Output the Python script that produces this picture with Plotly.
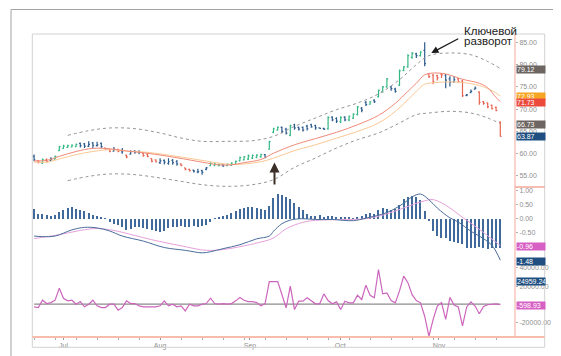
import plotly.graph_objects as go

# ---------------- data ----------------
months = ["Jul", "Aug", "Sep", "Oct", "Nov"]
month_pos = [7.0, 30.0, 51.4, 72.9, 96.4]

opens = [
    59.4, 58.4, 57.9, 58.7, 58.5, 58.8, 60.7, 61.2, 61.4, 61.5,
    61.6, 62.3, 62.2, 61.7, 62.4, 61.8, 62.3, 61.3, 61.0, 60.6,
    61.0, 60.4, 59.7, 59.9, 60.6, 60.4, 60.1, 59.9, 58.9, 58.6,
    58.0, 58.5, 57.8, 58.5, 58.2, 57.7, 56.8, 56.5, 56.3, 55.9,
    56.2, 56.5, 57.3, 57.3, 57.3, 57.5, 57.3, 57.4, 57.6, 58.4,
    58.6, 58.8, 59.0, 59.2, 59.3, 59.8, 61.0, 64.8, 65.3, 65.9,
    65.5, 64.1, 66.5, 65.9, 65.9, 66.2, 66.5, 66.3, 65.8, 65.7,
    65.6, 68.2, 67.9, 67.2, 68.2, 67.6, 68.0, 68.8, 70.2, 71.5,
    71.1, 72.0, 72.8, 74.0, 75.0, 75.0, 74.5, 75.4, 78.7, 79.5,
    81.6, 82.4, 82.0, 83.2, 77.9, 77.6, 77.5, 77.9, 77.6, 76.8,
    76.1, 76.8, 76.3, 73.1, 73.7, 74.5, 73.8, 71.7, 71.4, 70.9,
    70.4, 67.1]
highs = [
    59.8, 58.5, 58.9, 58.9, 59.2, 59.6, 61.8, 62.0, 62.0, 62.1,
    62.3, 62.5, 62.4, 62.8, 62.6, 62.7, 62.5, 61.3, 61.1, 61.5,
    61.1, 61.3, 59.8, 60.8, 60.8, 60.8, 60.2, 60.1, 59.0, 58.7,
    59.0, 58.7, 59.0, 58.8, 58.6, 57.8, 56.8, 56.6, 56.4, 56.6,
    56.4, 57.0, 58.1, 57.9, 57.8, 57.6, 57.8, 58.1, 58.5, 59.4,
    59.5, 59.8, 59.8, 59.9, 60.0, 59.95, 62.9, 65.8, 66.1, 66.1,
    65.8, 66.5, 66.7, 66.1, 66.1, 66.5, 66.7, 66.5, 65.9, 65.8,
    68.4, 68.4, 68.2, 68.4, 68.4, 68.6, 69.1, 70.7, 70.5, 71.8,
    71.8, 72.2, 74.4, 75.2, 77.0, 75.2, 74.8, 78.9, 79.7, 82.3,
    82.8, 82.65, 83.0, 85.0, 78.1, 77.9, 77.7, 78.1, 77.9, 77.4,
    77.4, 77.0, 76.6, 73.4, 74.4, 75.1, 74.0, 71.8, 71.5, 71.0,
    70.6, 67.3]
lows = [
    58.3, 57.8, 57.7, 58.1, 58.4, 58.7, 60.6, 61.1, 61.3, 61.4,
    61.5, 61.4, 61.3, 61.5, 61.3, 61.6, 61.3, 60.9, 60.3, 60.5,
    60.3, 60.0, 59.0, 59.8, 60.0, 59.9, 59.3, 59.2, 58.1, 58.0,
    57.7, 57.6, 57.5, 57.5, 57.3, 57.2, 56.3, 56.0, 55.8, 55.6,
    55.3, 56.3, 57.2, 57.2, 57.2, 57.0, 57.2, 57.3, 57.5, 58.3,
    58.5, 58.6, 58.8, 59.0, 59.1, 59.0, 60.9, 64.6, 65.2, 64.6,
    64.3, 63.9, 65.4, 65.2, 65.0, 65.2, 65.8, 65.4, 65.6, 65.3,
    65.4, 67.3, 66.9, 66.9, 67.3, 67.3, 67.8, 68.6, 69.3, 70.7,
    71.0, 71.4, 72.6, 73.7, 74.8, 74.1, 73.7, 75.2, 78.5, 79.3,
    81.3, 81.5, 81.8, 79.6, 77.0, 75.6, 76.4, 77.0, 74.7, 75.1,
    75.9, 75.9, 72.7, 72.9, 73.6, 74.4, 71.0, 71.0, 70.2, 69.9,
    69.5, 63.85]
closes = [
    58.6, 58.1, 58.7, 58.3, 58.8, 59.4, 61.6, 61.7, 61.8, 61.9,
    62.1, 61.8, 61.7, 62.1, 61.9, 62.0, 61.6, 61.0, 60.5, 61.0,
    60.5, 60.7, 59.3, 60.5, 60.4, 60.3, 59.6, 59.4, 58.3, 58.2,
    58.4, 58.1, 58.2, 58.0, 57.7, 57.4, 56.5, 56.2, 56.1, 56.0,
    55.8, 56.8, 57.8, 57.6, 57.5, 57.3, 57.6, 57.9, 58.3, 59.1,
    59.3, 59.5, 59.6, 59.7, 59.8, 59.2, 62.7, 65.6, 65.9, 65.0,
    64.6, 66.3, 65.8, 65.5, 65.3, 65.6, 66.0, 65.8, 65.7, 65.5,
    68.1, 67.6, 67.3, 68.1, 67.6, 68.4, 68.9, 70.5, 69.8, 71.0,
    71.6, 71.7, 74.2, 75.0, 76.8, 74.6, 74.0, 78.6, 79.5, 82.0,
    82.5, 82.0, 82.8, 80.2, 77.3, 76.2, 77.0, 77.7, 76.5, 76.0,
    76.6, 76.2, 73.0, 73.2, 74.0, 74.7, 71.5, 71.3, 70.5, 70.1,
    69.7, 63.87]
# bar colour class: g = green, b = blue, r = red
bar_class = list(
    "brgrbggggg" "gbbbbbbrrb" "rbrbbbrrrr" "bbbbbrrrbb" "bbgggbgggg"
    "gggggbgggb" "bgbbbbbbbb" "gbbgbgggbb" "gbgggbbggg" "gbgbrrrrbb"
    "brrbbbrrrr" "rr")

ma_x = [0, 3, 6, 10, 14, 18, 22, 27, 34, 40, 44, 47, 50, 54, 57, 62, 67, 72,
        77, 82, 86, 89, 91, 93, 95, 98, 102, 106, 108, 110, 111]
ma_fast = [58.4, 58.5, 59.4, 60.5, 61.2, 61.1, 60.6, 60.1, 59.1, 58.1, 57.5,
           57.5, 58.0, 58.7, 60.1, 62.0, 63.4, 64.8, 66.5, 68.6, 71.3, 74.0,
           75.8, 77.7, 78.1, 77.9, 76.7, 75.8, 74.8, 72.6, 71.73]
ma_slow = [58.1, 58.1, 58.8, 59.8, 60.5, 60.9, 60.6, 60.3, 59.4, 58.5, 57.9,
           57.6, 57.7, 58.2, 59.0, 60.7, 62.0, 63.5, 65.0, 66.9, 69.5, 72.1,
           74.0, 75.6, 75.9, 76.1, 76.0, 75.3, 74.6, 73.6, 72.93]

band_x = [8, 13, 18, 24, 30, 35, 40, 46, 52, 57, 62, 67, 72, 77, 82, 87, 91,
          94, 99, 104, 108, 111]
band_upper = [64.12, 65.17, 65.77, 65.62, 64.65, 63.52, 62.78, 62.78, 62.92,
              63.90, 66.14, 68.01, 69.88, 71.38, 73.40, 76.61, 79.98, 82.0,
              82.6, 82.2, 80.7, 79.12]
band_lower = [53.95, 54.92, 55.45, 55.3, 54.55, 53.8, 53.05, 52.68, 53.05,
              54.17, 56.94, 59.04, 61.28, 63.15, 64.65, 66.89, 68.76, 69.13,
              69.51, 69.13, 68.01, 66.73]

macd_hist = [
    0.35, 0.18, 0.17, 0.12, 0.08, 0.12, 0.25, 0.32, 0.38, 0.40,
    0.36, 0.32, 0.26, 0.20, 0.13, 0.08, 0.05, 0.02, -0.12, -0.18,
    -0.22, -0.30, -0.42, -0.36, -0.30, -0.28, -0.32, -0.38, -0.42, -0.45,
    -0.48, -0.44, -0.33, -0.30, -0.30, -0.26, -0.30, -0.30, -0.26, -0.28,
    -0.25, -0.22, -0.12, 0.01, 0.05, 0.10, 0.14, 0.20, 0.28, 0.35,
    0.38, 0.40, 0.40, 0.38, 0.36, 0.30, 0.45, 0.75, 0.88, 0.85,
    0.78, 0.72, 0.55, 0.42, 0.30, 0.18, 0.10, 0.08, 0.12, 0.05,
    0.08, 0.10, 0.06, 0.04, 0.05, 0.04, 0.02, 0.05, 0.10, 0.18,
    0.20, 0.15, 0.30, 0.38, 0.35, 0.32, 0.36, 0.50, 0.72, 0.78,
    0.82, 0.78, 0.65, 0.28, -0.08, -0.45, -0.62, -0.70, -0.70, -0.78,
    -0.83, -0.88, -0.90, -1.05, -1.06, -1.05, -1.00, -1.05, -1.08, -1.05,
    -1.05, -1.05]

macd_x = [0, 2, 5, 9, 12, 15, 18, 21, 26, 31, 36, 40, 42, 45, 49, 53, 56, 57,
          59, 61, 64, 67, 71, 76, 79, 84, 88, 90, 92, 94, 96, 99, 101, 104,
          106, 109, 111]
macd_line = [-0.62, -0.64, -0.62, -0.40, -0.31, -0.33, -0.44, -0.62, -0.80,
             -1.03, -1.13, -1.22, -1.18, -1.07, -0.93, -0.72, -0.62, -0.45,
             -0.18, -0.05, 0.0, -0.03, -0.03, -0.07, 0.02, 0.22, 0.55, 0.78,
             0.88, 0.68, 0.38, 0.03, -0.12, -0.45, -0.62, -0.95, -1.48]
signal_x = [0, 6, 11, 15, 19, 24, 28, 35, 41, 45, 50, 53, 57, 60, 64, 67, 73,
            79, 84, 89, 93, 95, 98, 102, 106, 111]
signal_line = [-0.71, -0.57, -0.42, -0.35, -0.42, -0.60, -0.75, -0.97, -1.13,
               -1.10, -0.97, -0.87, -0.69, -0.36, -0.13, -0.06, -0.03, 0.0,
               0.17, 0.44, 0.64, 0.68, 0.48, 0.05, -0.38, -0.96]

osc = [
    -2900, -3700, 4400, 700, 1800, 4400, 17700, 6600, 3700, 4400,
    0, 2900, -2900, 0, 4400, -1800, -3700, -3700, 0, 0,
    -6600, -3700, 3700, 700, 700, -1800, -2900, -2900, -2900, -2900,
    -1800, 3700, -1800, 0, -2900, -1800, -7400, 0, -1800, -1800,
    0, 700, 6600, 700, 0, 700, 0, 700, 3700, 7400,
    4400, 2900, 2900, 1800, -1800, 700, 25000, 25000, 25000, 10700,
    -4000, 19900, -5900, 3300, 3300, 7000, 3300, 400, 400, 11400,
    4000, 400, 2600, -5900, 3300, 1500, 1500, 9900, 5200, 21000,
    9900, 7000, 38300, 11400, 12500, 4000, 1500, 14700, 31000, 23800,
    10500, 4000, 1500, -13300, -35400, -17000, -2000, 1800, -16800, 7500,
    -1000, -3000, -24000, -3000, 2500, -2000, -10500, -2500, -600, 0,
    300, -598.93]

price_ticks = [55, 60, 65, 70, 75, 80, 85]
macd_ticks = [1.0, 0.5, 0.0, -0.5]
osc_ticks = [40000, 20000, -20000]

# value flags on the right axis: (text, colour, axis, value, yshift)
flags = [
    ("79.12", "#6d6561", "y", 79.12, -0.5),
    ("72.93", "#f6a623", "y", 72.93, -0.7),
    ("71.73", "#ec4b3c", "y", 71.73, -1.4),
    ("66.73", "#6d6561", "y", 66.73, -0.8),
    ("63.87", "#1f4f80", "y", 63.87, 0),
    ("-0.96", "#d760c4", "y2", -0.96, -0.8),
    ("-1.48", "#1f4f80", "y2", -1.48, -1.2),
    ("24959.24", "#1f4f80", "y3", 24959.24, 0.5),
    ("-598.93", "#d760c4", "y3", -598.93, -0.8),
]

# ---------------- styling ----------------
GREEN, BLUE, RED = "#34b883", "#2c5b8e", "#e8634f"
FONT = "Liberation Sans Narrow, Arial Narrow, Liberation Sans, Arial"
TICKC = "#8f8f8f"

W, H = 561, 356
L, R, T, B = 24, 507, 26, 329


def pxx(px):
    return (px - L) / (R - L)


def pxy(py):
    return (B - py) / (B - T)


fig = go.Figure()

# envelope bands
for band in (band_upper, band_lower):
    fig.add_trace(go.Scatter(x=band_x, y=band, mode="lines",
                             line=dict(color="#959595", width=1, dash="dot", shape="spline"),
                             yaxis="y", hoverinfo="skip"))
# moving averages
fig.add_trace(go.Scatter(x=ma_x, y=ma_slow, mode="lines",
                         line=dict(color="#fbc894", width=1, shape="spline"),
                         yaxis="y", hoverinfo="skip"))
fig.add_trace(go.Scatter(x=ma_x, y=ma_fast, mode="lines",
                         line=dict(color="#f08a78", width=1, shape="spline"),
                         yaxis="y", hoverinfo="skip"))

# price bars
for cls, col in (("g", GREEN), ("b", BLUE), ("r", RED)):
    idx = [i for i, c in enumerate(bar_class) if c == cls]
    fig.add_trace(go.Ohlc(
        x=idx, open=[opens[i] for i in idx], high=[highs[i] for i in idx],
        low=[lows[i] for i in idx], close=[closes[i] for i in idx],
        increasing=dict(line=dict(color=col, width=1.2)),
        decreasing=dict(line=dict(color=col, width=1.2)),
        tickwidth=0.3, yaxis="y", hoverinfo="skip"))

# MACD panel
fig.add_trace(go.Bar(x=list(range(len(macd_hist))), y=macd_hist, width=0.3,
                     marker=dict(color="#3f6a9b", line=dict(width=0)),
                     yaxis="y2", hoverinfo="skip"))
fig.add_trace(go.Scatter(x=signal_x, y=signal_line, mode="lines",
                         line=dict(color="#e6a0da", width=1, shape="spline"),
                         yaxis="y2", hoverinfo="skip"))
fig.add_trace(go.Scatter(x=macd_x, y=macd_line, mode="lines",
                         line=dict(color="#4a6e9c", width=1, shape="spline"),
                         yaxis="y2", hoverinfo="skip"))

# oscillator panel
fig.add_shape(type="line", xref="x", yref="y3", x0=0, x1=len(osc) - 1, y0=0, y1=0,
              line=dict(color="#8c8c8c", width=1.2), layer="below")
fig.add_trace(go.Scatter(x=list(range(len(osc))), y=osc, mode="lines",
                         line=dict(color="#cc66bd", width=1.2),
                         yaxis="y3", hoverinfo="skip"))

axis_common = dict(side="right", anchor="x", showgrid=False, zeroline=False,
                   showline=False, ticks="outside", ticklen=2, tickcolor="#b0b0b0",
                   tickfont=dict(family=FONT, size=7, color=TICKC))

fig.update_layout(
    width=W, height=H, margin=dict(l=L, r=W - R, t=T, b=H - B),
    paper_bgcolor="white", plot_bgcolor="white", showlegend=False,
    bargap=0,
    xaxis=dict(range=[-0.5, 114.5], domain=[0, 1], anchor="y3",
               showgrid=False, zeroline=False, showline=False,
               tickvals=month_pos, ticktext=months, ticks="outside", ticklen=2,
               tickcolor="#999999", tickfont=dict(family=FONT, size=7, color=TICKC),
               minor=dict(tick0=0.1, dtick=5, ticks="outside", ticklen=2,
                          tickcolor="#aaaaaa"),
               rangeslider=dict(visible=False)),
    yaxis=dict(domain=[pxy(179), 1], range=[52.53, 86.86],
               tickvals=price_ticks, ticktext=[f"{v:.2f}" for v in price_ticks],
               **axis_common),
    yaxis2=dict(domain=[pxy(257), pxy(179)], range=[-1.654, 1.132],
                tickvals=macd_ticks, ticktext=[f"{v:.2f}" for v in macd_ticks],
                **axis_common),
    yaxis3=dict(domain=[0, pxy(257)], range=[-36240, 43300],
                tickvals=osc_ticks, ticktext=[f"{v:.2f}" for v in osc_ticks],
                **axis_common),
)

# frames and axis lines
fig.add_shape(type="rect", xref="paper", yref="paper", x0=pxx(3), x1=pxx(557),
              y0=pxy(355), y1=pxy(1.5), line=dict(color="#a3a3a3", width=1))
fig.add_shape(type="rect", xref="paper", yref="paper", x0=pxx(24.3), x1=pxx(536.7),
              y0=pxy(339.3), y1=pxy(26), line=dict(color="#d2d2d2", width=1))
fig.add_shape(type="line", xref="paper", yref="paper", x0=1, x1=1, y0=0, y1=1,
              line=dict(color="#f3a899", width=1))
fig.add_shape(type="line", xref="paper", yref="paper", x0=1, x1=pxx(536.7),
              y0=pxy(179), y1=pxy(179), line=dict(color="#f19a88", width=1.3))
fig.add_shape(type="line", xref="paper", yref="paper", x0=pxx(24.3), x1=pxx(536.7),
              y0=0, y1=0, line=dict(color="#f8bcad", width=2))

# value flags
for text, col, ax, val, ys in flags:
    fig.add_annotation(text=text, xref="paper", x=pxx(507.6), xanchor="left",
                       yref=ax, y=val, yanchor="middle", yshift=ys,
                       showarrow=False, bgcolor=col, width=28, height=7,
                       align="left", borderpad=0,
                       font=dict(family=FONT, size=7, color="white"))

# callout text and arrows
fig.add_annotation(text="Ключевой", xref="paper", yref="paper", x=pxx(454),
                   y=pxy(22.7), xanchor="left", yanchor="middle", showarrow=False,
                   font=dict(family="Liberation Sans, Arial", size=11.5, color="#222222"))
fig.add_annotation(text="разворот", xref="paper", yref="paper", x=pxx(454),
                   y=pxy(33.3), xanchor="left", yanchor="middle", showarrow=False,
                   font=dict(family="Liberation Sans, Arial", size=11.5, color="#222222"))
fig.add_annotation(text="", xref="paper", yref="paper", x=pxx(423.3), y=pxy(45),
                   showarrow=True, ax=28.4, ay=-15, axref="pixel", ayref="pixel",
                   arrowhead=2, arrowsize=1.1, arrowwidth=1.3, arrowcolor="#1a1a1a",
                   standoff=0)
fig.add_annotation(text="", xref="paper", yref="paper", x=pxx(266.5), y=pxy(154.5),
                   showarrow=True, ax=0, ay=23.5, axref="pixel", ayref="pixel",
                   arrowhead=2, arrowsize=1, arrowwidth=2, arrowcolor="#3b2f28",
                   standoff=0)

fig.write_html("out.html")
